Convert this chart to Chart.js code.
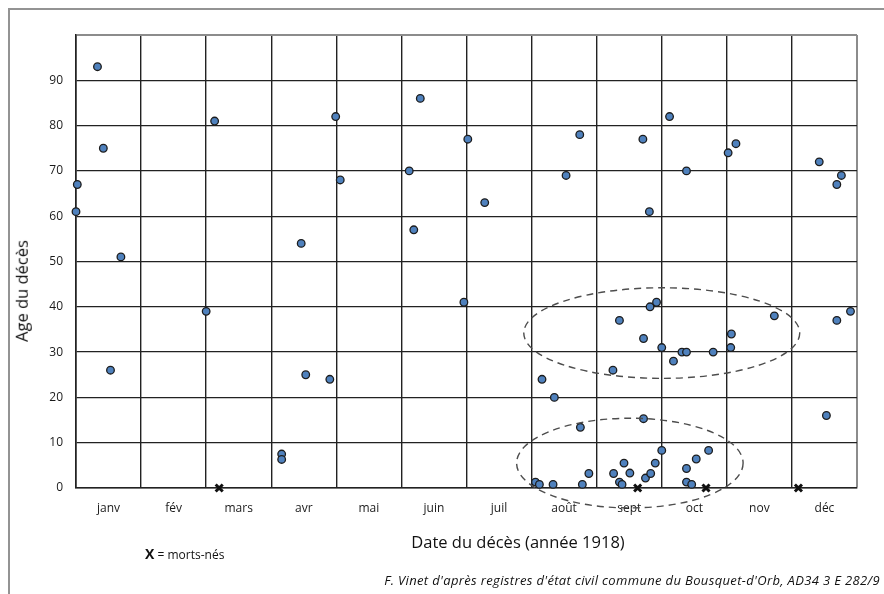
<!DOCTYPE html>
<html lang="fr">
<head>
<meta charset="utf-8">
<script src="https://cdn.jsdelivr.net/npm/chart.js@4.4.1/dist/chart.umd.min.js"></script>
<style>
  html, body { margin: 0; padding: 0; background: #fff; }
  #wrap { position: relative; width: 884px; height: 594px; overflow: hidden; font-family: "Open Sans", sans-serif; color: #111; }
  #frame { position: absolute; left: 8px; top: 8px; width: 1000px; height: 1000px; border: 2px solid #939393; box-sizing: border-box; }
  canvas { position: absolute; left: 0; top: 0; }
  .lbl { position: absolute; white-space: nowrap; line-height: 1; }
  #yTitle { left: 22px; top: 291px; transform: translate(-50%, -50%) rotate(-90deg); font-size: 16.5px; }
  #xTitle { left: 518px; top: 542px; transform: translate(-50%, -50%); font-size: 16.5px; }
  #legend { left: 145px; top: 554px; transform: translateY(-50%); font-size: 12px; }
  #legend b { font-size: 14px; }
  #caption { right: 4px; top: 580px; transform: translateY(-50%); font-size: 13px; letter-spacing: 0.35px; font-style: italic; }
</style>
</head>
<body>
<div id="wrap">
  <div id="frame"></div>
  <canvas id="ageChart" width="884" height="594"></canvas>
  <div class="lbl" id="yTitle">Age du décès</div>
  <div class="lbl" id="xTitle">Date du décès (année 1918)</div>
  <div class="lbl" id="legend"><b>X</b> = morts-nés</div>
  <div class="lbl" id="caption">F. Vinet d'après registres d'état civil commune du Bousquet-d'Orb, AD34 3 E 282/9</div>
</div>
<script>
const monthLabels = ['janv', 'fév', 'mars', 'avr', 'mai', 'juin', 'juil', 'août', 'sept', 'oct', 'nov', 'déc'];

// date of death, in months since 1 Jan 1918
const deathMonth = [
  0.33, 0.42, 0.02, 0.0, 0.69, 0.53,
  2.13, 2.0,
  3.46, 3.99, 4.06, 3.53, 3.9, 3.16, 3.16,
  5.29, 5.12, 5.19, 5.96,
  6.02, 6.28,
  7.53, 7.74, 7.16, 7.35, 7.75, 7.88, 7.06, 7.12, 7.33, 7.78,
  8.71, 8.81, 8.82, 8.92, 8.35, 8.72, 8.25, 8.72, 8.26, 8.42, 8.51, 8.35, 8.39, 8.75, 8.83, 8.9, 9.0, 9.0,
  9.12, 9.38, 9.18, 9.31, 9.38, 9.79, 9.38, 9.53, 9.72, 9.38, 9.46,
  10.02, 10.14, 10.07, 10.06, 10.73,
  11.42, 11.76, 11.69, 11.69, 11.9, 11.53
];
const deathAge = [
  93, 75, 67, 61, 51, 26,
  81, 39,
  54, 82, 68, 25, 24, 7.5, 6.3,
  86, 70, 57, 41,
  77, 63,
  69, 78, 24, 20, 13.4, 3.2, 1.3, 0.8, 0.8, 0.8,
  77, 61, 40, 41, 37, 33, 26, 15.3, 3.2, 5.5, 3.3, 1.3, 0.8, 2.2, 3.2, 5.5, 8.3, 31,
  82, 70, 28, 30, 30, 30, 4.3, 6.4, 8.3, 1.3, 0.8,
  74, 76, 34, 31, 38,
  72, 69, 67, 37, 39, 16
];

// stillbirths (morts-nés), drawn as X on the axis
const stillbornMonth = [2.2, 8.63, 9.68, 11.1];

// dashed ellipses: centre month, centre age, half-width in months, half-height in years
const ellipseCx = [9.0, 8.51];
const ellipseCy = [34.2, 5.5];
const ellipseRx = [2.12, 1.74];
const ellipseRy = [10.0, 9.9];

const gridDark = '#222';
const gridEdge = '#8c8c8c';

const ellipsePlugin = {
  id: 'ellipses',
  afterDatasetsDraw(chart) {
    const { ctx, scales: { x, y } } = chart;
    ctx.save();
    ctx.strokeStyle = '#4d4d4d';
    ctx.lineWidth = 1.4;
    ctx.setLineDash([7, 5]);
    ellipseCx.forEach((cx, i) => {
      const px = x.getPixelForValue(cx);
      const py = y.getPixelForValue(ellipseCy[i]);
      const rx = x.getPixelForValue(cx + ellipseRx[i]) - px;
      const ry = py - y.getPixelForValue(ellipseCy[i] + ellipseRy[i]);
      ctx.beginPath();
      ctx.ellipse(px, py, rx, ry, 0, 0, Math.PI * 2);
      ctx.stroke();
    });
    ctx.restore();
  }
};

const halfTicks = [];
for (let i = 0; i <= 24; i++) halfTicks.push({ value: i / 2 });

const tickFont = { family: '"Open Sans", sans-serif', size: 12 };

new Chart(document.getElementById('ageChart'), {
  type: 'scatter',
  data: {
    datasets: [
      {
        label: 'décès',
        data: deathMonth.map((m, i) => ({ x: m, y: deathAge[i] })),
        pointRadius: 3.8,
        pointBackgroundColor: '#4f81bd',
        pointBorderColor: '#1c1c1c',
        pointBorderWidth: 1.3,
        clip: false
      },
      {
        label: 'morts-nés',
        data: stillbornMonth.map(m => ({ x: m, y: 0 })),
        pointStyle: 'crossRot',
        pointRadius: 5,
        pointBorderColor: '#111',
        pointBorderWidth: 3,
        clip: false
      }
    ]
  },
  options: {
    responsive: false,
    animation: false,
    layout: { padding: { left: 30, top: 35, right: 27, bottom: 66 } },
    plugins: { legend: { display: false }, tooltip: { enabled: false } },
    scales: {
      x: {
        type: 'linear',
        min: 0,
        max: 12,
        afterBuildTicks: (scale) => { scale.ticks = halfTicks.map(t => ({ ...t })); },
        afterFit: (scale) => { scale.height = 40; },
        ticks: {
          autoSkip: false,
          maxRotation: 0,
          padding: 13,
          color: '#1a1a1a',
          font: tickFont,
          callback: (v) => Number.isInteger(v) ? '' : monthLabels[Math.floor(v)]
        },
        grid: {
          drawTicks: false,
          color: (ctx) => {
            if (!ctx.tick || !Number.isInteger(ctx.tick.value)) return 'rgba(0,0,0,0)';
            return ctx.tick.value === 12 ? gridEdge : gridDark;
          },
          lineWidth: (ctx) => {
            if (!ctx.tick || !Number.isInteger(ctx.tick.value)) return 0;
            return ctx.tick.value === 12 ? 2 : 1.4;
          }
        },
        border: { display: true, color: gridDark, width: 1.6 }
      },
      y: {
        min: 0,
        max: 100,
        afterFit: (scale) => { scale.width = 46; },
        ticks: {
          stepSize: 10,
          padding: 13,
          color: '#1a1a1a',
          font: tickFont,
          callback: (v) => v === 100 ? '' : v
        },
        grid: {
          drawTicks: false,
          color: (ctx) => ctx.tick && ctx.tick.value === 100 ? gridEdge : gridDark,
          lineWidth: (ctx) => ctx.tick && ctx.tick.value === 100 ? 2 : 1.3
        },
        border: { display: true, color: gridDark, width: 1.6 }
      }
    }
  },
  plugins: [ellipsePlugin]
});
</script>
</body>
</html>
